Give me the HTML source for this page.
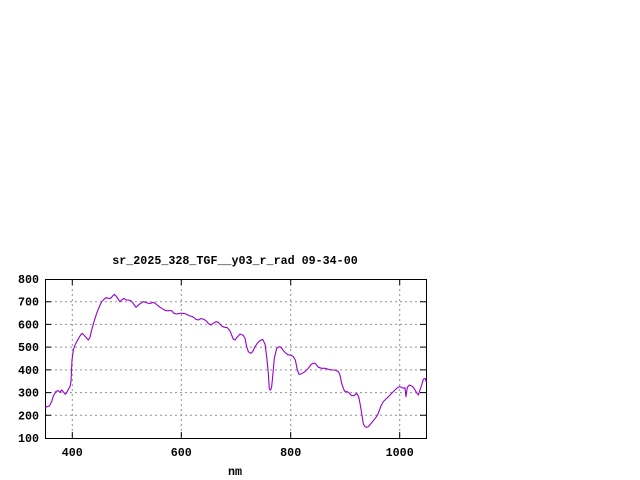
<!DOCTYPE html>
<html><head><meta charset="utf-8"><style>
html,body{margin:0;padding:0;background:#fff;}
svg{display:block;}
text{font-family:"Liberation Mono",monospace;font-weight:bold;font-size:11.7px;fill:#000;}
</style></head><body>
<svg width="640" height="480" viewBox="0 0 640 480" xmlns="http://www.w3.org/2000/svg">
<rect width="640" height="480" fill="#fff"/>
<text x="235" y="264" text-anchor="middle">sr_2025_328_TGF__y03_r_rad 09-34-00</text>
<g stroke="#909090" stroke-width="1" stroke-dasharray="2,3">
<line x1="45" y1="301.7" x2="426" y2="301.7"/>
<line x1="45" y1="324.4" x2="426" y2="324.4"/>
<line x1="45" y1="347.1" x2="426" y2="347.1"/>
<line x1="45" y1="369.9" x2="426" y2="369.9"/>
<line x1="45" y1="392.6" x2="426" y2="392.6"/>
<line x1="45" y1="415.3" x2="426" y2="415.3"/>
<line x1="72.3" y1="279" x2="72.3" y2="438"/>
<line x1="181.3" y1="279" x2="181.3" y2="438"/>
<line x1="290.7" y1="279" x2="290.7" y2="438"/>
<line x1="399.7" y1="279" x2="399.7" y2="438"/>
</g>
<rect x="45.5" y="279.5" width="381" height="159" fill="none" stroke="#000" stroke-width="1"/>
<g stroke="#000" stroke-width="1">
<path d="M45 301.7h6M45 324.4h6M45 347.1h6M45 369.9h6M45 392.6h6M45 415.3h6M426 301.7h-6M426 324.4h-6M426 347.1h-6M426 369.9h-6M426 392.6h-6M426 415.3h-6M72.3 438v-6M181.3 438v-6M290.7 438v-6M399.7 438v-6M72.3 279v6M181.3 279v6M290.7 279v6M399.7 279v6"/>
</g>
<g text-anchor="end">
<text x="39" y="283">800</text>
<text x="39" y="305.7">700</text>
<text x="39" y="328.4">600</text>
<text x="39" y="351.1">500</text>
<text x="39" y="373.9">400</text>
<text x="39" y="396.6">300</text>
<text x="39" y="419.3">200</text>
<text x="39" y="442">100</text>
</g>
<g text-anchor="middle">
<text x="72.3" y="456">400</text>
<text x="181.3" y="456">600</text>
<text x="290.7" y="456">800</text>
<text x="399.7" y="456">1000</text>
<text x="235" y="475">nm</text>
</g>
<g transform="translate(0,250) scale(0.33333)">
<polyline fill="none" stroke="#9400d3" stroke-width="3.3" stroke-linejoin="round" points="136,472 148,468 155,455 160,438 168,424 175,422 180,427 185,420 192,428 196,433 200,428 205,418 210,410 213,395 216,330 220,300 225,285 232,272 240,258 246,250 252,255 258,262 265,270 270,262 275,240 282,215 290,190 298,170 305,155 312,148 318,143 325,145 332,145 338,138 343,133 348,138 355,148 360,155 365,150 372,145 378,150 385,150 392,152 398,158 403,165 408,172 415,165 422,160 430,155 438,157 445,160 452,160 460,157 468,162 475,168 482,173 490,178 498,182 505,182 515,182 522,190 530,192 540,190 552,190 560,193 570,198 578,200 588,208 595,210 602,206 610,207 618,212 625,220 632,225 640,220 648,215 655,217 662,225 668,230 675,232 682,233 690,243 695,255 700,268 705,270 710,263 715,258 720,252 730,256 735,265 740,290 745,305 752,310 758,305 765,290 772,280 780,272 788,268 795,282 800,320 805,370 808,418 812,420 815,410 818,380 823,325 830,295 837,290 843,292 850,302 858,310 865,315 872,315 880,320 886,330 892,360 897,373 903,372 910,368 918,362 925,355 932,345 938,340 945,340 950,345 955,352 965,355 975,355 985,358 995,360 1005,360 1015,365 1020,375 1025,400 1030,415 1035,425 1042,425 1048,430 1055,437 1062,437 1070,430 1076,440 1080,460 1085,490 1090,522 1095,530 1100,532 1105,530 1112,522 1120,512 1128,502 1135,490 1142,470 1150,455 1160,445 1170,435 1180,425 1190,415 1198,410 1205,412 1210,415 1215,413 1218,440 1222,412 1228,405 1235,408 1240,412 1245,420 1250,428 1255,435 1260,420 1265,405 1270,388 1275,385 1279,395"/>
</g>
</svg>
</body></html>
